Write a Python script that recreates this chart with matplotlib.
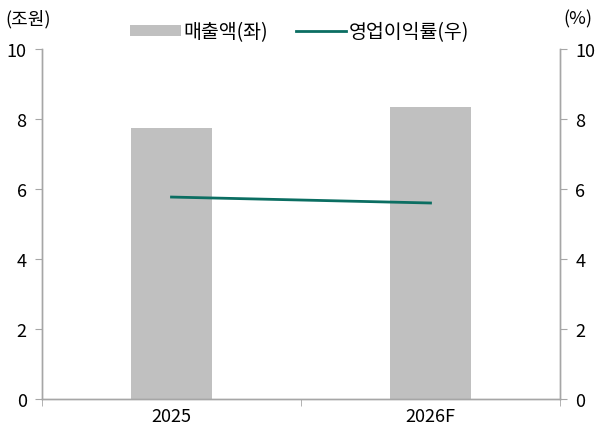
import matplotlib
matplotlib.use("Agg")
import matplotlib.pyplot as plt
from matplotlib.patches import Patch
from matplotlib.lines import Line2D

plt.rcParams['font.family'] = ['Noto Sans CJK KR', 'DejaVu Sans']

categories = ["2025", "2026F"]
sales = [7.74, 8.34]
margin = [5.77, 5.6]
yticks = [0, 2, 4, 6, 8, 10]

bar_color = "#C0C0C0"
line_color = "#0B6E62"
spine_color = "#A6A6A6"

fig = plt.figure(figsize=(5.98, 4.31), dpi=100)
ax = fig.add_axes([42/598, 1 - 400/431, (560-42)/598, 350/431])
ax2 = ax.twinx()

x = list(range(len(categories)))
ax.bar(x, sales, width=0.31, color=bar_color, zorder=2)
ax2.plot(x, margin, color=line_color, linewidth=2, zorder=3)

ax.set_xlim(-0.5, 1.5)
ax.set_ylim(0, 10)
ax2.set_ylim(0, 10)
ax.set_yticks(yticks)
ax2.set_yticks(yticks)
ax.set_yticklabels([str(v) for v in yticks])
ax2.set_yticklabels([str(v) for v in yticks])

ax.set_xticks(x)
ax.set_xticklabels(categories)
ax.set_xticks([-0.5, 0.5, 1.5], minor=True)
ax.tick_params(axis='x', which='major', length=0, pad=6, labelsize=13)
ax.tick_params(axis='x', which='minor', length=5, color=spine_color)
ax.tick_params(axis='y', length=5, color=spine_color, labelsize=13, pad=6)
ax2.tick_params(axis='y', length=5, color=spine_color, labelsize=13, pad=6)

for a in (ax, ax2):
    a.spines['top'].set_visible(False)
    for s in ('left', 'right', 'bottom'):
        a.spines[s].set_color(spine_color)
        a.spines[s].set_linewidth(1)

fig.text(5/598, 1 - 19/431, "(조원)", fontsize=13, ha='left', va='center')
fig.text(592/598, 1 - 19/431, "(%)", fontsize=13, ha='right', va='center')

handles = [Patch(facecolor=bar_color, edgecolor='none'),
           Line2D([0], [0], color=line_color, linewidth=2)]
fig.legend(handles, ["매출액(좌)", "영업이익률(우)"], loc='center',
           bbox_to_anchor=(300/598, 1 - 33/431), ncol=2, frameon=False,
           fontsize=14, handlelength=2.6, handletextpad=0.15, columnspacing=1.4,
           handleheight=0.55)

fig.savefig("out.png", dpi=100)
